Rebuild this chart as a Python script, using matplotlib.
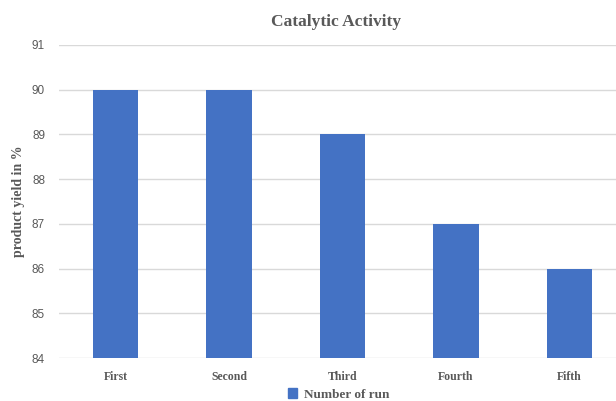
import matplotlib
matplotlib.use("Agg")
import matplotlib.pyplot as plt
from matplotlib.patches import Patch

runs = ["First", "Second", "Third", "Fourth", "Fifth"]
yield_pct = [90, 90, 89, 87, 86]

bar_color = "#4472c4"
text_gray = "#595959"

fig = plt.figure(figsize=(6.16, 4.01), dpi=100)
ax = fig.add_axes([0.0958, 0.1072, 0.9042, 0.7806])

ax.bar(range(len(runs)), yield_pct, width=0.4, color=bar_color, zorder=3)

ax.set_ylim(84, 91)
ax.set_xlim(-0.5, 4.41)
ax.set_yticks(range(84, 92))
ax.set_xticks(range(len(runs)))
ax.set_xticklabels(runs, family="Liberation Serif", fontweight="bold",
                   fontsize=8.5, color=text_gray)
for lbl in ax.get_yticklabels():
    lbl.set_family("Liberation Sans")
    lbl.set_fontsize(8.5)
    lbl.set_color(text_gray)

ax.grid(axis="y", color="#d9d9d9", linewidth=1, zorder=0)
for s in ax.spines.values():
    s.set_visible(False)
ax.tick_params(length=0, pad=9)
ax.tick_params(axis="y", pad=10)

ax.set_ylabel("product yield in %", family="Liberation Serif", fontweight="bold",
              fontsize=10, color=text_gray)
ax.yaxis.set_label_coords(-0.061, 0.5)
fig.text(0.545, 0.945, "Catalytic Activity", family="Liberation Serif",
         fontweight="bold", fontsize=12.5, color=text_gray, ha="center", va="center")

handle = Patch(color=bar_color, label="Number of run")
fig.legend(handles=[handle], loc="center", bbox_to_anchor=(0.55, 0.016),
           frameon=False, handlelength=0.7, handleheight=0.7, handletextpad=0.5,
           borderpad=0, prop={"family": "Liberation Serif", "weight": "bold", "size": 9.5},
           labelcolor=text_gray)

fig.savefig("out.png", dpi=100)
